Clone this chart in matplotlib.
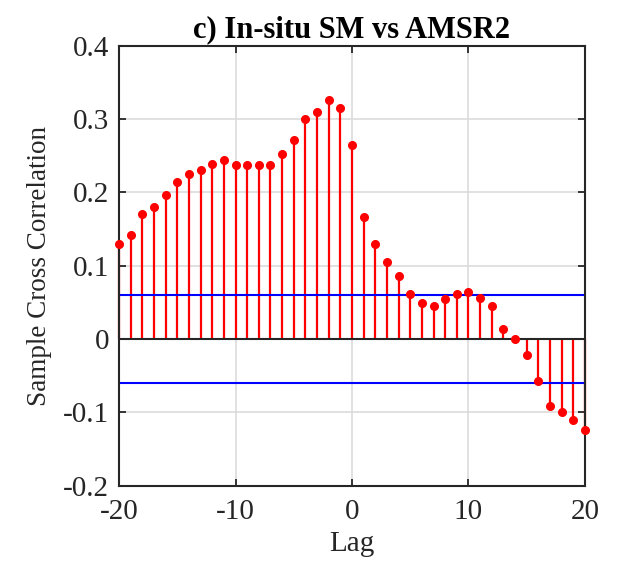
import numpy as np
import matplotlib.pyplot as plt

lags = np.arange(-20, 21)
xcf = [0.130, 0.142, 0.170, 0.180, 0.197, 0.214, 0.225, 0.231, 0.239, 0.244,
       0.237, 0.237, 0.237, 0.237, 0.252, 0.272, 0.300, 0.309, 0.326, 0.315,
       0.265,
       0.166, 0.129, 0.105, 0.086, 0.062, 0.049, 0.045, 0.055, 0.062, 0.064,
       0.056, 0.045, 0.014, 0.000, -0.022, -0.057, -0.092, -0.100, -0.111, -0.124]
bound = 0.0605
x_ticks = [-20, -10, 0, 10, 20]
y_ticks = [-0.2, -0.1, 0, 0.1, 0.2, 0.3, 0.4]
y_ticklabels = ["-0.2", "-0.1", "0", "0.1", "0.2", "0.3", "0.4"]

plt.rcParams["font.family"] = ["Liberation Serif", "DejaVu Serif"]

fig = plt.figure(figsize=(6.17, 5.75), dpi=100)
ax = fig.add_axes([0.193, 0.1555, 0.755, 0.765])

ml, sl, bl = ax.stem(lags, xcf, linefmt="r-", markerfmt="ro", basefmt="k-")
plt.setp(sl, linewidth=1.6, clip_on=False)
plt.setp(ml, markersize=5.5, clip_on=False, zorder=4)
plt.setp(bl, linewidth=1.5, color="#262626")

ax.axhline(bound, color="blue", linewidth=1.5)
ax.axhline(-bound, color="blue", linewidth=1.5)

ax.set_xlim(-20, 20)
ax.set_ylim(-0.2, 0.4)
ax.set_xticks(x_ticks)
ax.set_xticklabels([str(t) for t in x_ticks])
ax.set_yticks(y_ticks)
ax.set_yticklabels(y_ticklabels)
ax.grid(True, color="#dcdcdc", linewidth=1.2)
ax.set_axisbelow(True)
ax.tick_params(direction="in", top=True, right=True, length=5, width=1.3,
               labelsize=21, colors="#262626", pad=7)
ax.tick_params(axis="x", pad=10)
for s in ax.spines.values():
    s.set_linewidth(1.5)
    s.set_color("#262626")

ax.set_title("c) In-situ SM vs AMSR2", fontsize=22, fontweight="bold", pad=6)
ax.set_xlabel("Lag", fontsize=21, color="#262626", labelpad=4)
ax.set_ylabel("Sample Cross Correlation", fontsize=19.5, color="#262626", labelpad=8)

fig.savefig("out.png", dpi=100)
